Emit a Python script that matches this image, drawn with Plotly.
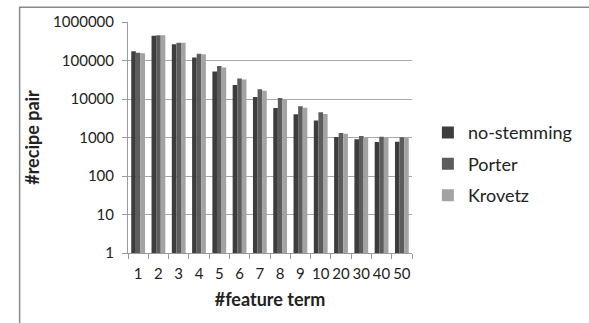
import plotly.graph_objects as go

# Number of feature terms (category axis)
feature_terms = ["1", "2", "3", "4", "5", "6", "7", "8", "9", "10", "20", "30", "40", "50"]

# Recipe pair counts per stemming method
no_stemming = [175000, 440000, 266000, 120000, 52000, 23000, 11200, 5800, 4000, 2770, 1030, 900, 765, 770]
porter = [158000, 450000, 290000, 150000, 72000, 34000, 18000, 10600, 6500, 4500, 1300, 1090, 1050, 1020]
krovetz = [155000, 450000, 288000, 145000, 66000, 32000, 16500, 10000, 5900, 4100, 1250, 1000, 980, 970]

tick_vals = [1, 10, 100, 1000, 10000, 100000, 1000000]
tick_text = ["1", "10", "100", "1000", "10000", "100000", "1000000"]

W, H = 589, 323
ML, MR, MT, MB = 128, 157, 20, 70

FONT = "Lato, 'Open Sans', sans-serif"

fig = go.Figure()
series = [
    ("no-stemming", no_stemming, "#3d3d3d"),
    ("Porter", porter, "#5c5c5c"),
    ("Krovetz", krovetz, "#a3a3a3"),
]
for name, vals, col in series:
    fig.add_trace(go.Bar(
        x=feature_terms, y=vals, name=name, legendgroup=name,
        marker=dict(color=col, line=dict(width=0)),
    ))

# Outer frame around the chart
pw = W - ML - MR
ph = H - MT - MB
def px_x(p):
    return (p - ML) / pw
def px_y(p):
    return (H - MB - p) / ph

fig.add_shape(type="rect", xref="paper", yref="paper",
              x0=px_x(12), x1=px_x(640), y0=px_y(380), y1=px_y(5),
              line=dict(color="#8a8a8a", width=1.5), fillcolor="rgba(0,0,0,0)",
              layer="below")

fig.update_layout(
    width=W, height=H,
    margin=dict(l=ML, r=MR, t=MT, b=MB),
    paper_bgcolor="white", plot_bgcolor="white",
    barmode="group", bargap=0.32, bargroupgap=0,
    font=dict(family=FONT, color="#222", size=15),
    showlegend=True,
    legend=dict(x=px_x(449), xanchor="left", y=px_y(113), yanchor="top",
                font=dict(size=18, family=FONT, color="#222"),
                bgcolor="rgba(0,0,0,0)", itemwidth=30, tracegroupgap=5),
    xaxis=dict(
        type="category", showgrid=False, showline=True, linecolor="#9a9a9a", linewidth=1,
        ticks="outside", tickson="boundaries", ticklen=5, tickcolor="#9a9a9a",
        tickangle=0, ticklabelstandoff=7,
        tickfont=dict(size=15, family=FONT, color="#222"),
        title=dict(text="<b>#feature term</b>", font=dict(size=18, family=FONT, color="#222"), standoff=12),
    ),
    yaxis=dict(
        type="log", range=[0, 6], tickvals=tick_vals, ticktext=tick_text,
        showgrid=True, gridcolor="#a8a8a8", gridwidth=1.2,
        showline=True, linecolor="#9a9a9a", linewidth=1,
        ticks="outside", ticklen=5, tickcolor="#9a9a9a", ticklabelstandoff=5,
        tickfont=dict(size=15, family=FONT, color="#222"),
        title=dict(text="<b>#recipe pair</b>", font=dict(size=18, family=FONT, color="#222"), standoff=8),
    ),
)

fig.write_html("out.html")
